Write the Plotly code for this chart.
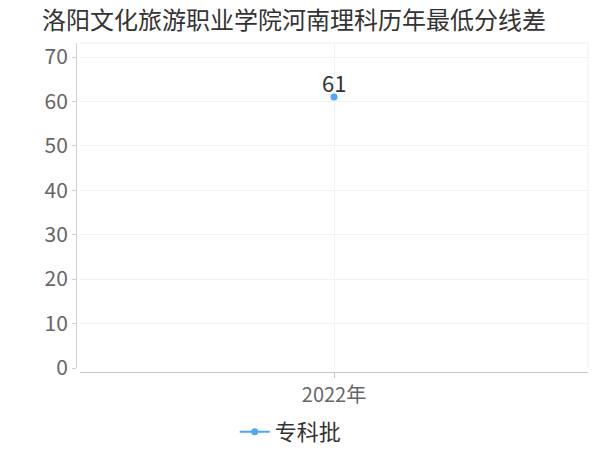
import plotly.graph_objects as go

categories = ["2022年"]
series_name = "专科批"
values = [61]
y_ticks = [0, 10, 20, 30, 40, 50, 60, 70]

fig = go.Figure()
fig.add_trace(go.Scatter(
    x=categories, y=values, name=series_name,
    mode="lines+markers",
    marker=dict(color="#4da6ff", size=7),
    line=dict(color="#4da6ff", width=2),
))

# value labels just above the points
for c, v in zip(categories, values):
    fig.add_annotation(x=c, y=v, text=str(v), showarrow=False,
                       yanchor="middle", yshift=15,
                       font=dict(size=22, color="#333333"))

# faint frame lines at top and right of the grid
fig.add_shape(type="line", xref="x domain", yref="y domain", x0=0, x1=1, y0=1, y1=1,
              line=dict(color="#f0f0f0", width=1), layer="below")
fig.add_shape(type="line", xref="x domain", yref="y domain", x0=1, x1=1, y0=0, y1=1,
              line=dict(color="#f0f0f0", width=1), layer="below")

fig.update_layout(
    width=592, height=442,
    margin=dict(l=68, r=12, t=35, b=78, autoexpand=False),
    paper_bgcolor="white", plot_bgcolor="white",
    font=dict(family="Noto Sans CJK SC, sans-serif", color="#666666"),
    title=dict(text="洛阳文化旅游职业学院河南理科历年最低分线差",
               x=34 / 592, xanchor="left", yref="container", y=0.971, yanchor="middle",
               font=dict(size=24, color="#333333")),
    showlegend=True,
    legend=dict(orientation="h", x=0.31, xanchor="left", y=-0.182, yanchor="middle",
                font=dict(size=22, color="#333333"), itemwidth=30),
    xaxis=dict(domain=[4 / 512, 1], anchor="free", position=0,
               showgrid=True, gridcolor="#f2f2f2", showline=True, linecolor="#c8c8c8",
               ticks="outside", ticklen=5, tickcolor="#c8c8c8", automargin=False,
               tickfont=dict(size=20, color="#666666")),
    yaxis=dict(domain=[4 / 329, 1], anchor="free", position=0,
               range=[0, 73.15], tickvals=y_ticks, showgrid=True, gridcolor="#f2f2f2",
               showline=True, linecolor="#d0d0d0", ticks="outside", ticklen=4,
               tickcolor="#d0d0d0", zeroline=False, automargin=False,
               tickfont=dict(size=21, color="#666666")),
)

fig.write_html("out.html")
